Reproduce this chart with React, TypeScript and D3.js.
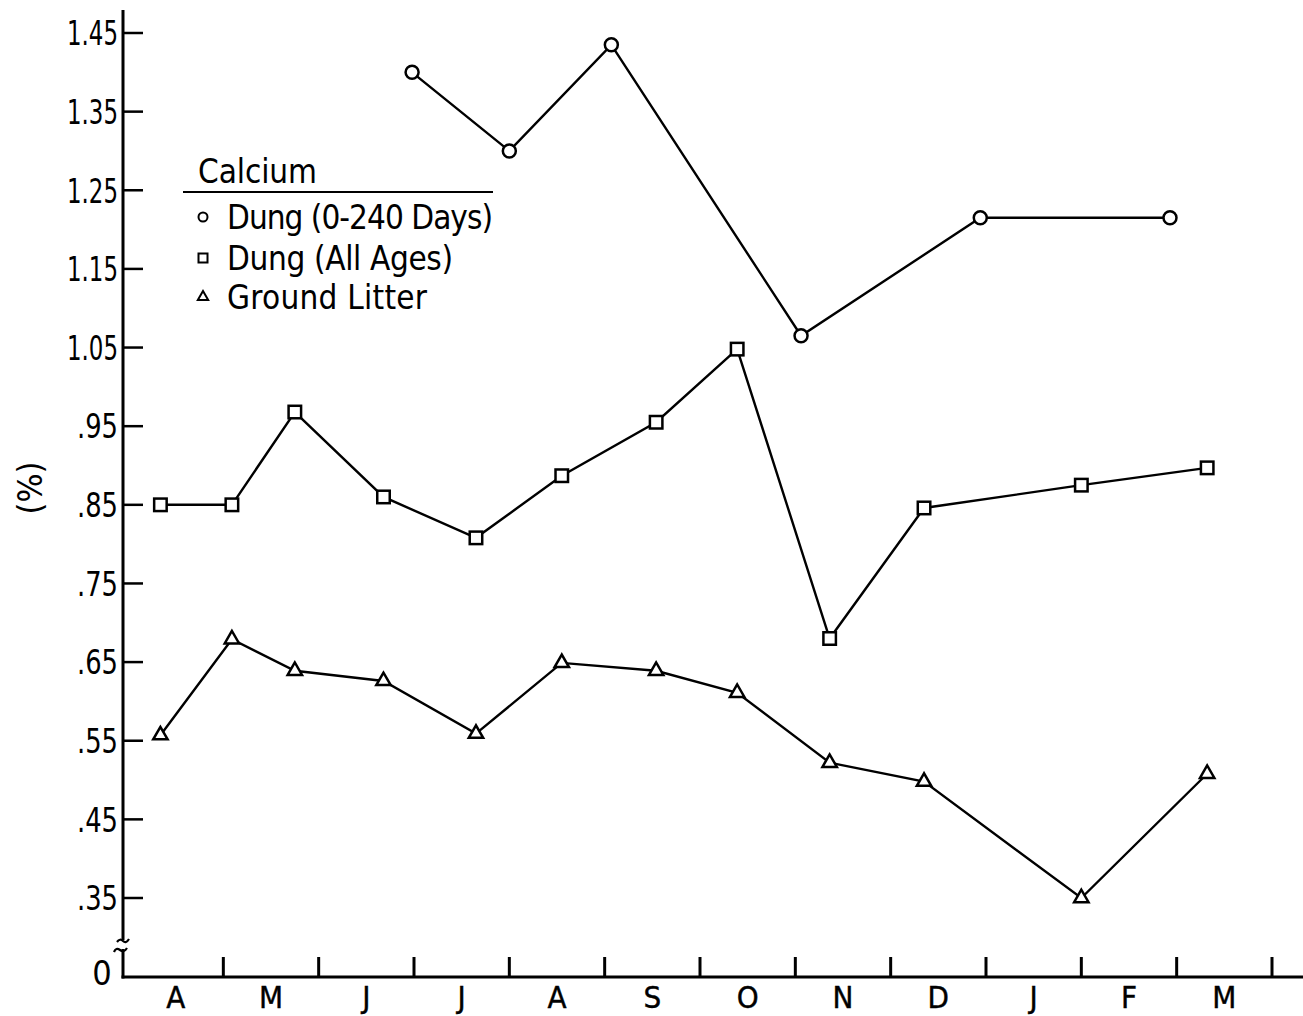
import React from 'react';
import * as d3 from 'd3';

// Month labels (April through March) and month-boundary ticks
const monthLabels = ['A', 'M', 'J', 'J', 'A', 'S', 'O', 'N', 'D', 'J', 'F', 'M'];
const monthTicks = [1, 2, 3, 4, 5, 6, 7, 8, 9, 10, 11, 12];

// Y ticks (%)
const yTickValues = [0.35, 0.45, 0.55, 0.65, 0.75, 0.85, 0.95, 1.05, 1.15, 1.25, 1.35, 1.45];

// Dung (0-240 Days) — x in months since April 1
const dung240Months = [2.98, 4.0, 5.07, 7.06, 8.94, 10.93];
const dung240Values = [1.4, 1.3, 1.435, 1.065, 1.215, 1.215];

// Dung (All Ages)
const dungAllMonths = [0.34, 1.09, 1.75, 2.68, 3.65, 4.55, 5.54, 6.39, 7.36, 8.35, 10.0, 11.32];
const dungAllValues = [0.85, 0.85, 0.968, 0.86, 0.808, 0.887, 0.955, 1.048, 0.68, 0.846, 0.875, 0.897];

// Ground Litter
const litterMonths = [0.34, 1.09, 1.75, 2.68, 3.65, 4.55, 5.54, 6.39, 7.36, 8.35, 10.0, 11.32];
const litterValues = [0.557, 0.679, 0.639, 0.626, 0.559, 0.649, 0.639, 0.611, 0.522, 0.498, 0.35, 0.508];

const legendTitle = 'Calcium';
const legendLabels = ['Dung (0-240 Days)', 'Dung (All Ages)', 'Ground Litter'];

const W = 1303;
const H = 1016;
const AXIS_X = 123;
const AXIS_Y = 977;
const FONT = '"Liberation Sans Narrow", "DejaVu Sans Condensed", "Liberation Sans", sans-serif';

const x = d3.scaleLinear().domain([0, 12]).range([128, 1272]);
const y = d3.scaleLinear().domain([0.35, 1.45]).range([898, 33]);

type Pt = { m: number; v: number };
const zip = (ms: number[], vs: number[]): Pt[] => ms.map((m, i) => ({ m, v: vs[i] }));

const line = d3
  .line<Pt>()
  .x((d) => x(d.m))
  .y((d) => y(d.v));

function triPath(s: number) {
  const h = s * 0.866;
  return `M0,${(-2 * h) / 3}L${-s / 2},${h / 3}L${s / 2},${h / 3}Z`;
}

function Marker({ kind, cx, cy, size, sw = 2.5 }: { kind: string; cx: number; cy: number; size: number; sw?: number }) {
  const common = { fill: '#fff', stroke: '#000', strokeWidth: sw };
  if (kind === 'circle') return <circle cx={cx} cy={cy} r={size / 2} {...common} />;
  if (kind === 'square')
    return <rect x={cx - size / 2} y={cy - size / 2} width={size} height={size} {...common} />;
  return <path d={triPath(size * 1.15)} transform={`translate(${cx},${cy})`} {...common} />;
}

const fmt = (v: number) => (v >= 1 ? v.toFixed(2) : v.toFixed(2).slice(1));

export default function App() {
  const series = [
    { kind: 'circle', size: 13, data: zip(dung240Months, dung240Values) },
    { kind: 'square', size: 12.5, data: zip(dungAllMonths, dungAllValues) },
    { kind: 'triangle', size: 12.5, data: zip(litterMonths, litterValues) },
  ];
  const legendKinds = ['circle', 'square', 'triangle'];
  const legendRowY = [217, 258, 297];
  const legendWidths = [266, 226, 200];

  return (
    <svg
      width={W}
      height={H}
      style={{ position: 'absolute', left: 0, top: 0, background: '#fff' }}
      fontFamily={FONT}
    >
      <rect x={0} y={0} width={W} height={H} fill="#fff" />

      {/* Y axis */}
      <line x1={AXIS_X} y1={10} x2={AXIS_X} y2={940} stroke="#000" strokeWidth={3} />
      <line x1={AXIS_X} y1={949} x2={AXIS_X} y2={AXIS_Y + 1.5} stroke="#000" strokeWidth={3} />
      <path d="M117,942 q3,-4 6,-1 t6,-2" fill="none" stroke="#000" strokeWidth={2.2} />
      <path d="M114,952 q2,-5 6,-2 t7,-2" fill="none" stroke="#000" strokeWidth={2.2} />
      {yTickValues.map((v) => {
        const lab = fmt(v);
        return (
          <g key={v}>
            <line x1={AXIS_X} x2={AXIS_X + 20} y1={y(v)} y2={y(v)} stroke="#000" strokeWidth={2.5} />
            <text
              x={AXIS_X - 5}
              y={y(v)}
              dy="0.36em"
              textAnchor="end"
              fontSize={34}
              fill="#000"
              textLength={lab.length === 4 ? 51 : 41}
              lengthAdjust="spacingAndGlyphs"
            >
              {lab}
            </text>
          </g>
        );
      })}
      <text x={102} y={AXIS_Y - 4} dy="0.36em" textAnchor="middle" fontSize={34} fill="#000">
        0
      </text>
      <text
        transform={`translate(30,488) rotate(-90)`}
        textAnchor="middle"
        dy="0.36em"
        fontSize={34}
        fill="#000"
      >
        (%)
      </text>

      {/* X axis */}
      <line x1={AXIS_X - 1.5} x2={1303} y1={AXIS_Y} y2={AXIS_Y} stroke="#000" strokeWidth={3} />
      {monthTicks.map((m) => (
        <line key={m} x1={x(m)} x2={x(m)} y1={AXIS_Y} y2={AXIS_Y - 20} stroke="#000" strokeWidth={3} />
      ))}
      {monthLabels.map((lab, i) => (
        <text
          key={i}
          x={x(i + 0.5)}
          y={997}
          dy="0.36em"
          textAnchor="middle"
          fontSize={31}
          fill="#000"
          stroke="#000"
          strokeWidth={0.4}
        >
          {lab}
        </text>
      ))}

      {/* Series lines */}
      {series.map((s) => (
        <path key={s.kind} d={line(s.data) || ''} fill="none" stroke="#000" strokeWidth={2.4} />
      ))}
      {/* Markers */}
      {series.map((s) =>
        s.data.map((d, i) => (
          <Marker key={s.kind + i} kind={s.kind} cx={x(d.m)} cy={y(d.v)} size={s.size} />
        ))
      )}

      {/* Legend */}
      <text x={198} y={183} fontSize={33} fill="#000" textLength={119} lengthAdjust="spacing">
        {legendTitle}
      </text>
      <line x1={183} x2={493} y1={192} y2={192} stroke="#000" strokeWidth={2.2} />
      {legendLabels.map((lab, i) => (
        <g key={lab}>
          <Marker kind={legendKinds[i]} cx={203} cy={legendRowY[i]} size={9} sw={2} />
          <text
            x={227}
            y={legendRowY[i]}
            dy="0.36em"
            fontSize={33}
            fill="#000"
            textLength={legendWidths[i]}
            lengthAdjust="spacing"
          >
            {lab}
          </text>
        </g>
      ))}
    </svg>
  );
}
